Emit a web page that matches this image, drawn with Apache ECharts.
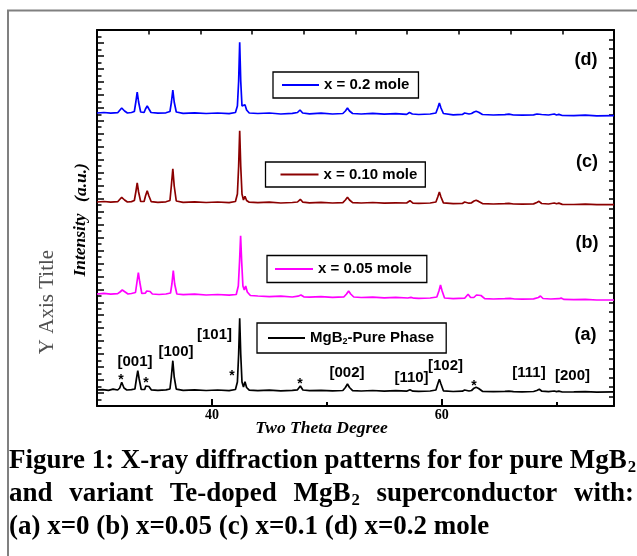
<!DOCTYPE html>
<html><head><meta charset="utf-8">
<script src="https://cdn.jsdelivr.net/npm/echarts@6/dist/echarts.min.js"></script>
<style>html,body{margin:0;padding:0;background:#fff}#c{width:637px;height:556px}</style>
</head><body><div id="c"></div>
<script>
// ---------------- DATA ----------------
const seriesNames = ['x = 0.2 mole', 'x = 0.10 mole', 'x = 0.05 mole', 'MgB2-Pure Phase'];
const seriesColors = ['#0000ff', '#8b0000', '#ff00ff', '#000000'];
const xTickLabels = [40, 60];
// 2-theta (deg), stacked intensity (a.u.)
const patternD = [[30,293],[30.6,293.5],[31.2,292.8],[31.8,293.3],[31.95,295],[32.15,298],[32.4,295],[32.65,293],[33.0,293.5],[33.25,294.5],[33.38,304],[33.5,314],[33.62,304],[33.8,294],[34.1,293.5],[34.22,297],[34.37,300],[34.52,297],[34.7,293.5],[35.3,292.8],[36.0,293.2],[36.35,294.5],[36.48,304],[36.6,316],[36.72,304],[36.9,294],[37.5,292.6],[38.5,293.2],[39.5,292.5],[40.5,293],[41.5,292.4],[42.05,293.5],[42.22,300],[42.33,325],[42.42,363.7],[42.51,325],[42.62,300],[42.75,298],[42.88,301.3],[43.02,296],[43.25,293],[44,292.5],[45,293],[46,292],[47,292.6],[47.45,293.5],[47.67,296],[47.9,293],[48.5,292.2],[49.5,292.8],[50.5,292],[51.4,292.5],[51.62,295],[51.8,298],[51.98,295],[52.25,292.5],[53,292],[54,292.6],[55,291.8],[56,292.4],[56.95,291.6],[57.2,293.5],[57.45,292],[58,291.5],[59,292],[59.5,293],[59.66,298],[59.8,303],[59.94,298],[60.15,292.5],[61,291.2],[61.8,291.6],[62.0,293],[62.17,293.7],[62.38,292],[62.6,292.5],[62.82,294],[63.0,294.7],[63.22,293.8],[63.55,291.5],[64.5,291],[65.5,291.4],[65.85,291.8],[66.0,292.3],[66.25,291],[67,290.8],[68,291.2],[68.3,292],[68.47,293],[68.7,291.5],[69.3,291],[69.8,292],[70.0,291],[70.2,291.6],[70.5,290.5],[71.5,290.4],[72.5,290.8],[73.5,290.2],[75,290.3]];
const patternC = [[30,204],[30.6,204.5],[31.2,203.8],[31.8,204.3],[31.95,206],[32.15,208.7],[32.4,206],[32.65,204],[33.0,204.4],[33.25,205.5],[33.38,214],[33.5,223],[33.62,214],[33.8,204.5],[34.1,204.5],[34.22,210],[34.37,215.3],[34.52,210],[34.72,204.3],[35.3,203.7],[36.0,204.2],[36.35,205.5],[36.47,220],[36.6,237.3],[36.72,220],[36.9,205],[37.5,203.6],[38.5,204.1],[39.5,203.5],[40.5,204],[41.5,203.4],[42.05,204.5],[42.22,212],[42.33,240],[42.42,275.3],[42.51,240],[42.62,212],[42.75,206],[42.88,209.7],[43.02,205.5],[43.25,203.8],[44,203.3],[45,203.8],[46,203],[47,203.5],[47.45,204],[47.7,206.7],[47.92,203.8],[48.5,203.2],[49.5,203.6],[50.5,203],[51.4,203.4],[51.62,206],[51.8,208.7],[51.98,206],[52.25,203.4],[53,203],[54,203.5],[55,202.8],[56,203.2],[56.95,203],[57.24,205.3],[57.5,202.8],[58,202.6],[59,203],[59.5,204],[59.66,209],[59.8,214],[59.94,209],[60.15,203.2],[61,202.3],[61.8,202.5],[62.0,204],[62.17,204.7],[62.38,202.8],[62.6,203.2],[62.82,205],[63.0,205.7],[63.22,204.6],[63.55,202.4],[64.5,202],[65.5,202.3],[65.85,202.6],[66.0,203.2],[66.25,202],[67,201.8],[68,202.1],[68.28,203.5],[68.47,204.7],[68.7,202.5],[69.3,202],[69.8,203],[70.0,202.2],[70.2,202.9],[70.5,201.6],[71.5,201.5],[72.5,201.8],[73.5,201.3],[75,201.4]];
const patternB = [[30,112],[30.6,112.6],[31.2,111.8],[31.8,112.4],[32.0,114],[32.2,116],[32.45,114],[32.7,112],[33.0,112.5],[33.35,113.5],[33.48,124],[33.6,133.3],[33.72,124],[33.9,112.5],[34.2,112.8],[34.33,115],[34.47,116],[34.62,114.5],[34.82,112],[35.4,111.5],[36.0,112],[36.4,113],[36.52,122],[36.64,135.3],[36.76,122],[36.95,112],[37.5,111.3],[38.5,111.8],[39.5,111],[40.5,111.5],[41.5,110.8],[42.12,111.5],[42.3,120],[42.41,145],[42.5,170.3],[42.59,145],[42.7,120],[42.82,116],[42.94,120],[43.08,114],[43.35,110.5],[44,110],[45,109.3],[46,109.8],[47,109],[47.5,109.8],[47.75,111],[48.0,109.2],[48.5,108.8],[49.5,109.3],[50.5,108.6],[51.5,109.2],[51.72,112],[51.9,115],[52.08,112],[52.35,109],[53,108.5],[54,108.9],[55,108.2],[56,108.7],[57.05,108],[57.33,108.6],[57.6,107.8],[58,107.6],[59,108],[59.58,109],[59.76,115],[59.9,121],[60.04,115],[60.25,108],[61,107.3],[62.0,107.8],[62.3,111.7],[62.52,108.5],[62.8,108.5],[63.03,111],[63.2,112],[63.42,110.5],[63.75,107.4],[64.5,107],[65.5,107.3],[65.95,107.6],[66.1,108.5],[66.35,107],[67,106.8],[68,107.1],[68.42,108.5],[68.6,110],[68.82,107.5],[69.5,107],[70.2,107.3],[70.4,107.9],[70.65,106.6],[71.5,106.4],[72.5,106.6],[73.5,106],[75,106]];
const patternA = [[30,16],[30.5,16.3],[31.0,15.7],[31.4,16.8],[31.8,16],[31.98,18],[32.15,23.7],[32.35,18],[32.6,16],[33.0,16.4],[33.3,17],[33.43,27],[33.55,35.3],[33.67,27],[33.85,16.5],[34.15,16.6],[34.25,20],[34.37,22],[34.52,19.5],[34.72,16.2],[35.3,15.7],[36.0,16.2],[36.35,17],[36.47,29],[36.6,45.3],[36.72,29],[36.9,16.8],[37.5,15.6],[38.5,16.1],[39.5,15.5],[40.5,16],[41.5,15.4],[42.05,16.5],[42.22,24],[42.33,52],[42.42,87.7],[42.51,52],[42.62,24],[42.75,19],[42.88,24.3],[43.02,18.5],[43.25,15.8],[44,15.4],[45,15.8],[46,15.2],[47,15.6],[47.45,16.2],[47.7,20],[47.92,16],[48.5,15.3],[49.5,15.7],[50.5,15.1],[51.4,15.5],[51.62,18.5],[51.8,22],[51.98,18.5],[52.25,15.4],[53,15],[54,15.5],[55,14.8],[56,15.3],[56.95,14.8],[57.24,16.2],[57.5,14.8],[58,14.7],[59,15],[59.5,16],[59.66,22],[59.8,26.7],[59.94,22],[60.15,15.2],[61,14.5],[61.8,14.8],[62.0,16],[62.17,16.7],[62.38,15],[62.6,15.5],[62.82,17.8],[63.0,18.7],[63.22,17.5],[63.55,14.7],[64.5,14.3],[65.5,14.6],[65.85,14.8],[66.0,15.3],[66.25,14.3],[67,14.2],[68,14.5],[68.28,15.5],[68.5,16.7],[68.72,14.8],[69.3,14.4],[69.8,15],[70.0,14.4],[70.2,14.9],[70.5,14],[71.5,14.1],[72.5,14.4],[73.5,13.9],[75,14.2]];
const patterns = [patternD, patternC, patternB, patternA];
const panelLabels = ['(d)', '(c)', '(b)', '(a)'];
const peakLabels = ['[001]', '[100]', '[101]', '[002]', '[110]', '[102]', '[111]', '[200]'];

// ---------------- LAYOUT ----------------
const SANS = '"Liberation Sans", Arial, sans-serif';
const SERIF = '"Liberation Serif", "Times New Roman", serif';
const panelPos = [[586, 60], [587, 162], [587, 243.5], [585.5, 335]];
const peakPos = [[135, 362], [176, 352], [214.5, 335], [347, 373], [411.5, 378], [445.5, 366], [529, 373], [572.5, 376]];
const starPos = [[121, 380], [146, 383], [232, 376], [300, 384], [474, 386]];
const legendBox = [
  {left: 273, top: 72, padding: [5, 9, 5, 9], itemWidth: 37},
  {left: 265.5, top: 162, padding: [4.5, 8, 4.5, 15], itemWidth: 38},
  {left: 267, top: 255.5, padding: [5.5, 15, 5.5, 8], itemWidth: 38},
  {left: 257, top: 323, padding: [7, 12, 7, 11], itemWidth: 37}
];

const chart = echarts.init(document.getElementById('c'), null, {renderer: 'canvas', width: 637, height: 556});

const G = [];
G.push({type: 'rect', shape: {x: 8, y: 10.5, width: 700, height: 600}, style: {fill: 'none', stroke: '#808080', lineWidth: 2}, z: -10, silent: true});
function T(x, y, text, font, fill, align, rot) {
  G.push({type: 'text', x: x, y: y, rotation: rot || 0, silent: true, z: 50,
    style: {text: text, font: font, fill: fill || '#000', align: align || 'center', verticalAlign: 'middle', textAlign: align || 'center', textVerticalAlign: 'middle'}});
}
panelLabels.forEach((t, i) => T(panelPos[i][0], panelPos[i][1], t, 'bold 18px ' + SANS));
peakLabels.forEach((t, i) => T(peakPos[i][0], peakPos[i][1], t, 'bold 15px ' + SANS));
starPos.forEach(p => T(p[0], p[1], '*', 'bold 14px ' + SANS));
T(47.5, 302, 'Y Axis Title', '21px ' + SERIF, '#505050', 'center', Math.PI / 2);
T(80, 245, 'Intensity', 'italic bold 17.5px ' + SERIF, '#000', 'center', Math.PI / 2);
T(81, 182.5, '(a.u.)', 'italic bold 17.5px ' + SERIF, '#000', 'center', Math.PI / 2);
T(321.5, 428, 'Two Theta Degree', 'italic bold 17.5px ' + SERIF, '#000', 'center');

// caption
const mctx = document.createElement('canvas').getContext('2d');
function tw(s, fs) { mctx.font = 'bold ' + fs + 'px ' + SERIF; return mctx.measureText(s).width; }
const line1 = 'Figure 1: X-ray diffraction patterns for for pure MgB';
const fs = 22 * 618 / tw(line1, 22);
const subFs = fs * 0.62;
const capFont = 'bold ' + fs + 'px ' + SERIF;
const subFont = 'bold ' + subFs + 'px ' + SERIF;
T(9, 461, line1, capFont, '#000', 'left');
T(9 + tw(line1, fs) + 1, 468, '2', subFont, '#000', 'left');
const words2 = ['and', 'variant', 'Te-doped', 'MgB', 'superconductor', 'with:'];
const subW = tw('2', subFs) + 1;
let total = words2.reduce((s, w) => s + tw(w, fs), 0) + subW;
const gap = (634 - 9 - total) / (words2.length - 1);
let cx = 9;
words2.forEach(w => {
  T(cx, 494, w, capFont, '#000', 'left');
  cx += tw(w, fs);
  if (w === 'MgB') { T(cx + 1, 501, '2', subFont, '#000', 'left'); cx += subW; }
  cx += gap;
});
T(9, 527, '(a) x=0 (b) x=0.05 (c) x=0.1 (d) x=0.2 mole', capFont, '#000', 'left');

const axisBlack = {color: '#000', width: 2};
const option = {
  animation: false,
  backgroundColor: '#fff',
  grid: {left: 97, right: 23, top: 30, bottom: 150, containLabel: false},
  xAxis: [
    {type: 'value', min: 30, max: 75, position: 'bottom',
      axisLine: {show: true, onZero: false, lineStyle: axisBlack},
      axisTick: {show: true, inside: true, length: 7, customValues: [40, 60], lineStyle: {color: '#000', width: 2}},
      axisLabel: {show: true, customValues: xTickLabels, margin: 2, color: '#000', fontFamily: SERIF, fontWeight: 'bold', fontSize: 14},
      splitLine: {show: false}},
    {type: 'value', min: 30, max: 75, position: 'bottom',
      axisLine: {show: false, onZero: false},
      axisTick: {show: true, inside: true, length: 4, customValues: [50, 70], lineStyle: {color: '#000', width: 2}},
      axisLabel: {show: false}, splitLine: {show: false}},
    {type: 'value', min: 0, max: 10, interval: 1, position: 'top',
      axisLine: {show: true, onZero: false, lineStyle: axisBlack},
      axisTick: {show: true, inside: true, length: 4.5, lineStyle: {color: '#000', width: 1.5}},
      axisLabel: {show: false}, splitLine: {show: false}}
  ],
  yAxis: [
    {type: 'value', min: 0, max: 376, position: 'left',
      axisLine: {show: true, onZero: false, lineStyle: axisBlack},
      axisTick: {show: false}, axisLabel: {show: false}, splitLine: {show: false}},
    {type: 'value', min: 0, max: 58, interval: 2, position: 'left',
      axisLine: {show: false, onZero: false},
      axisTick: {show: true, inside: true, length: 7, lineStyle: {color: '#000', width: 1.5}},
      minorTick: {show: true, splitNumber: 2, length: 4.5, lineStyle: {color: '#000', width: 1.5}},
      axisLabel: {show: false}, splitLine: {show: false}, minorSplitLine: {show: false}},
    {type: 'value', min: 0, max: 40, interval: 1, position: 'right',
      axisLine: {show: true, onZero: false, lineStyle: axisBlack},
      axisTick: {show: true, inside: true, length: 5, lineStyle: {color: '#000', width: 1.5}},
      axisLabel: {show: false}, splitLine: {show: false}}
  ],
  legend: seriesNames.map((n, i) => ({
    show: true, data: [n], left: legendBox[i].left, top: legendBox[i].top, padding: legendBox[i].padding,
    orient: 'horizontal', selectedMode: false, borderColor: '#000', borderWidth: 1.3, backgroundColor: '#fff',
    icon: 'rect', itemWidth: legendBox[i].itemWidth, itemHeight: 2, itemGap: 0,
    textStyle: {color: '#000', fontFamily: SANS, fontWeight: 'bold', fontSize: 15, lineHeight: 16,
      rich: {n: {fontFamily: SANS, fontWeight: 'bold', fontSize: 15, lineHeight: 16, color: '#000'},
             s: {fontFamily: SANS, fontWeight: 'bold', fontSize: 9, lineHeight: 9, verticalAlign: 'bottom', color: '#000'}}},
    formatter: name => name === 'MgB2-Pure Phase' ? '{n|MgB}{s|2}{n|-Pure Phase}' : '{n|' + name + '}'
  })),
  series: patterns.map((p, i) => ({
    name: seriesNames[i], type: 'line', xAxisIndex: 0, yAxisIndex: 0, data: p,
    color: seriesColors[i], symbol: 'none', showSymbol: false, smooth: false,
    lineStyle: {color: seriesColors[i], width: 1.7}, itemStyle: {color: seriesColors[i]}, z: 3
  })),
  graphic: G
};
chart.setOption(option);
</script>
</body></html>
